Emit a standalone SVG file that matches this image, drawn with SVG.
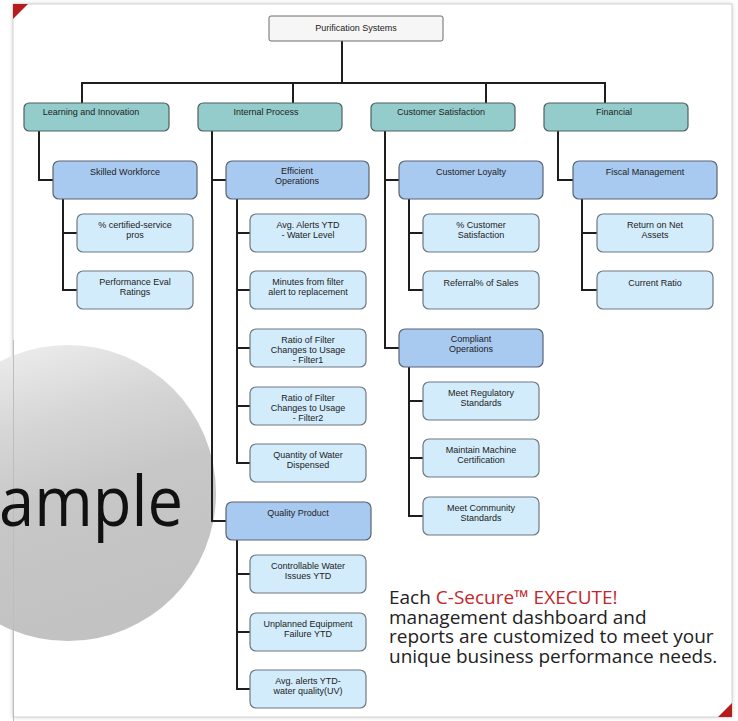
<svg xmlns="http://www.w3.org/2000/svg" width="738" height="721" viewBox="0 0 738 721">
<style>
.t{font-family:"Liberation Sans",Arial,sans-serif;font-size:9px;fill:#222;text-anchor:middle}
.root{fill:#f6f6f6;stroke:#6a6a6a;stroke-width:1}
.l1{fill:#93cccb;stroke:#4f5f5f;stroke-width:1.2}
.l2{fill:#a8c9f0;stroke:#5a6470;stroke-width:1.2}
.l3{fill:#d3ecfb;stroke:#6f7880;stroke-width:1.2}
.c{fill:none;stroke:#1e1e1e;stroke-width:2;stroke-linejoin:miter}
.big{font-family:"Open Sans","Liberation Sans",sans-serif;font-size:19px;fill:#222}
</style>
<defs>
<linearGradient id="gball" x1="0" y1="0" x2="0.3" y2="1">
<stop offset="0" stop-color="#f4f4f4"/>
<stop offset="0.35" stop-color="#d6d6d6"/>
<stop offset="0.6" stop-color="#c7c7c7"/>
<stop offset="1" stop-color="#c2c2c2"/>
</linearGradient>
<filter id="sh" x="-5%" y="-5%" width="110%" height="110%"><feGaussianBlur stdDeviation="2.5"/></filter>
</defs>
<rect x="0" y="0" width="738" height="721" fill="#ffffff"/>
<rect x="13" y="4" width="719" height="713" fill="#cfcfcf" filter="url(#sh)"/>
<rect x="13" y="4" width="719" height="713" fill="#ffffff" stroke="#d2d2d2" stroke-width="1"/>
<polygon points="13,4 28,4 13,19" fill="#b71c1c"/>
<polygon points="732,703 732,717 718,717" fill="#b71c1c"/>
<g id="watermark">
<circle cx="68" cy="493" r="148" fill="url(#gball)"/>
<line x1="13.5" y1="340" x2="13.5" y2="721" stroke="#bdbdbd" stroke-width="1"/>
<text x="-1" y="526" font-family="Open Sans, Liberation Sans, sans-serif" font-size="70" fill="#111" textLength="184" lengthAdjust="spacingAndGlyphs">ample</text>
</g>
<g id="connectors">
<polyline class="c" points="342,41 342,83"/>
<polyline class="c" points="82,103 82,83 605,83 605,103"/>
<polyline class="c" points="293,83 293,103"/>
<polyline class="c" points="486,83 486,103"/>
<polyline class="c" points="39,131 39,180 53,180"/>
<polyline class="c" points="212,131 212,521 226,521"/>
<polyline class="c" points="212,180 226,180"/>
<polyline class="c" points="385,131 385,348 399,348"/>
<polyline class="c" points="385,180 399,180"/>
<polyline class="c" points="558,131 558,180 573,180"/>
<polyline class="c" points="63,199 63,290 77,290"/>
<polyline class="c" points="63,233 77,233"/>
<polyline class="c" points="237,199 237,463 250,463"/>
<polyline class="c" points="237,233 250,233"/>
<polyline class="c" points="237,290 250,290"/>
<polyline class="c" points="237,348 250,348"/>
<polyline class="c" points="237,406 250,406"/>
<polyline class="c" points="237,540 237,689 250,689"/>
<polyline class="c" points="237,574 250,574"/>
<polyline class="c" points="237,632 250,632"/>
<polyline class="c" points="409,199 409,290 423,290"/>
<polyline class="c" points="409,233 423,233"/>
<polyline class="c" points="409,367 409,516 423,516"/>
<polyline class="c" points="409,401 423,401"/>
<polyline class="c" points="409,458 423,458"/>
<polyline class="c" points="582,199 582,290 597,290"/>
<polyline class="c" points="582,233 597,233"/>
</g>
<g id="root"><rect class="root" x="269" y="16" width="174" height="25" rx="2"/><text class="t" x="356" y="31">Purification Systems</text></g>
<g id="learning"><rect class="l1" x="24" y="103" width="145" height="28" rx="5"/><text class="t" x="91" y="114.5">Learning and Innovation</text></g>
<g id="internal"><rect class="l1" x="198" y="103" width="144" height="28" rx="5"/><text class="t" x="266" y="114.5">Internal Process</text></g>
<g id="customer"><rect class="l1" x="371" y="103" width="144" height="28" rx="5"/><text class="t" x="441" y="114.5">Customer Satisfaction</text></g>
<g id="financial"><rect class="l1" x="544" y="103" width="144" height="28" rx="5"/><text class="t" x="614" y="114.5">Financial</text></g>
<g id="skilled"><rect class="l2" x="53" y="161" width="144" height="38" rx="6"/><text class="t" x="125" y="175">Skilled Workforce</text></g>
<g id="efficient"><rect class="l2" x="226" y="161" width="143" height="38" rx="6"/><text class="t" x="297" y="174">Efficient</text><text class="t" x="297" y="184">Operations</text></g>
<g id="loyalty"><rect class="l2" x="399" y="161" width="144" height="38" rx="6"/><text class="t" x="471" y="175">Customer Loyalty</text></g>
<g id="fiscal"><rect class="l2" x="573" y="161" width="144" height="38" rx="6"/><text class="t" x="645" y="175">Fiscal Management</text></g>
<g id="compliant"><rect class="l2" x="399" y="329" width="144" height="38" rx="6"/><text class="t" x="471" y="342">Compliant</text><text class="t" x="471" y="352">Operations</text></g>
<g id="quality"><rect class="l2" x="226" y="502" width="145" height="38" rx="6"/><text class="t" x="298" y="516">Quality Product</text></g>
<g id="certified"><rect class="l3" x="77" y="214" width="116" height="38" rx="6"/><text class="t" x="135" y="228">% certified-service</text><text class="t" x="135" y="238">pros</text></g>
<g id="perfeval"><rect class="l3" x="77" y="271" width="116" height="38" rx="6"/><text class="t" x="135" y="285">Performance Eval</text><text class="t" x="135" y="295">Ratings</text></g>
<g id="avgalerts"><rect class="l3" x="250" y="214" width="116" height="38" rx="6"/><text class="t" x="308" y="228">Avg. Alerts YTD</text><text class="t" x="308" y="238">- Water Level</text></g>
<g id="minutes"><rect class="l3" x="250" y="271" width="116" height="38" rx="6"/><text class="t" x="308" y="285">Minutes from filter</text><text class="t" x="308" y="295">alert to replacement</text></g>
<g id="ratio1"><rect class="l3" x="250" y="329" width="116" height="38" rx="6"/><text class="t" x="308" y="343">Ratio of Filter</text><text class="t" x="308" y="353">Changes to Usage</text><text class="t" x="308" y="362.5">- Filter1</text></g>
<g id="ratio2"><rect class="l3" x="250" y="387" width="116" height="38" rx="6"/><text class="t" x="308" y="401">Ratio of Filter</text><text class="t" x="308" y="411">Changes to Usage</text><text class="t" x="308" y="420.5">- Filter2</text></g>
<g id="quantity"><rect class="l3" x="250" y="444" width="116" height="38" rx="6"/><text class="t" x="308" y="458">Quantity of Water</text><text class="t" x="308" y="468">Dispensed</text></g>
<g id="controllable"><rect class="l3" x="250" y="555" width="116" height="38" rx="6"/><text class="t" x="308" y="569">Controllable Water</text><text class="t" x="308" y="579">Issues YTD</text></g>
<g id="unplanned"><rect class="l3" x="250" y="613" width="116" height="38" rx="6"/><text class="t" x="308" y="627">Unplanned Equipment</text><text class="t" x="308" y="637">Failure YTD</text></g>
<g id="avgquality"><rect class="l3" x="250" y="670" width="116" height="38" rx="6"/><text class="t" x="308" y="684">Avg. alerts YTD-</text><text class="t" x="308" y="694">water quality(UV)</text></g>
<g id="custsat"><rect class="l3" x="423" y="214" width="116" height="38" rx="6"/><text class="t" x="481" y="228">% Customer</text><text class="t" x="481" y="238">Satisfaction</text></g>
<g id="referral"><rect class="l3" x="423" y="271" width="116" height="38" rx="6"/><text class="t" x="481" y="286">Referral% of Sales</text></g>
<g id="regulatory"><rect class="l3" x="423" y="382" width="116" height="38" rx="6"/><text class="t" x="481" y="396">Meet Regulatory</text><text class="t" x="481" y="406">Standards</text></g>
<g id="machine"><rect class="l3" x="423" y="439" width="116" height="38" rx="6"/><text class="t" x="481" y="453">Maintain Machine</text><text class="t" x="481" y="463">Certification</text></g>
<g id="community"><rect class="l3" x="423" y="497" width="116" height="38" rx="6"/><text class="t" x="481" y="511">Meet Community</text><text class="t" x="481" y="521">Standards</text></g>
<g id="rona"><rect class="l3" x="597" y="214" width="116" height="38" rx="6"/><text class="t" x="655" y="228">Return on Net</text><text class="t" x="655" y="238">Assets</text></g>
<g id="currentratio"><rect class="l3" x="597" y="271" width="116" height="38" rx="6"/><text class="t" x="655" y="286">Current Ratio</text></g>
<g id="caption">
<text class="big" x="389" y="604">Each <tspan fill="#c1272d">C-Secure™ EXECUTE!</tspan><tspan x="389" dy="19.5">management dashboard and</tspan><tspan x="389" dy="19.5">reports are customized to meet your</tspan><tspan x="389" dy="19.5">unique business performance needs.</tspan></text>
</g>
</svg>
